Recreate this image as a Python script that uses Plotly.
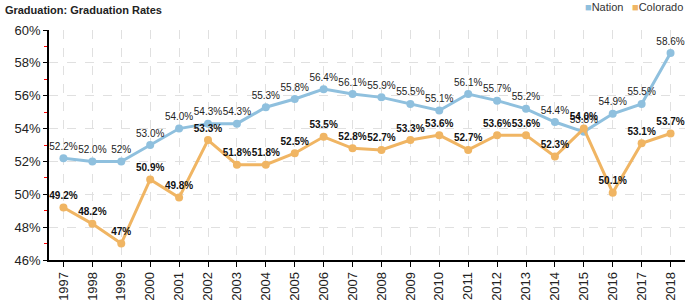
import plotly.graph_objects as go

years = [str(y) for y in range(1997, 2019)]
nation = [52.2, 52.0, 52.0, 53.0, 54.0, 54.3, 54.3, 55.3, 55.8, 56.4, 56.1, 55.9,
          55.5, 55.1, 56.1, 55.7, 55.2, 54.4, 53.8, 54.9, 55.5, 58.6]
nation_labels = ["52.2%", "52.0%", "52%", "53.0%", "54.0%", "54.3%", "54.3%", "55.3%",
                 "55.8%", "56.4%", "56.1%", "55.9%", "55.5%", "55.1%", "56.1%", "55.7%",
                 "55.2%", "54.4%", "53.8%", "54.9%", "55.5%", "58.6%"]
colorado = [49.2, 48.2, 47.0, 50.9, 49.8, 53.3, 51.8, 51.8, 52.5, 53.5, 52.8, 52.7,
            53.3, 53.6, 52.7, 53.6, 53.6, 52.3, 54.0, 50.1, 53.1, 53.7]
colorado_labels = ["49.2%", "48.2%", "47%", "50.9%", "49.8%", "53.3%", "51.8%", "51.8%",
                   "52.5%", "53.5%", "52.8%", "52.7%", "53.3%", "53.6%", "52.7%", "53.6%",
                   "53.6%", "52.3%", "54.0%", "50.1%", "53.1%", "53.7%"]
y_ticks = [46, 48, 50, 52, 54, 56, 58, 60]

blue = "#8fc0de"
orange = "#f0b563"
font = "Arial, Liberation Sans, sans-serif"

fig = go.Figure()
fig.add_trace(go.Scatter(
    x=years, y=nation, mode="lines+markers+text", name="Nation",
    line=dict(color=blue, width=3), marker=dict(color=blue, size=8),
    text=nation_labels, textposition="top center",
    textfont=dict(size=10, color="#222", family=font),
    showlegend=False, cliponaxis=False))
fig.add_trace(go.Scatter(
    x=years, y=colorado, mode="lines+markers+text", name="Colorado",
    line=dict(color=orange, width=3), marker=dict(color=orange, size=8),
    text=colorado_labels, textposition="top center",
    textfont=dict(size=10, color="#111", family=font, weight="bold"),
    showlegend=False, cliponaxis=False))

# legend drawn as text entries with coloured squares
legend_entries = [("Nation", blue, 0.9057), ("Colorado", orange, 1.0)]
for name, c, xpos in legend_entries:
    fig.add_annotation(
        text=f"<span style='color:{c}'>■</span>{name}",
        xref="paper", yref="paper", x=xpos, y=1.1, xanchor="right", yanchor="middle",
        showarrow=False, font=dict(size=11, color="#333", family=font))

fig.update_layout(
    width=700, height=300,
    margin=dict(l=49, r=15, t=30, b=40, autoexpand=False),
    paper_bgcolor="white", plot_bgcolor="white",
    font=dict(family=font, color="#222"),
    title=dict(text="<b>Graduation: Graduation Rates</b>", x=0.007, xanchor="left",
               y=0.965, yanchor="middle", font=dict(size=11, color="#222")),
    showlegend=False,
)
fig.update_xaxes(
    type="category", range=[-0.5, 21.5], tickangle=-90, automargin=False,
    tickfont=dict(size=13, color="#222"),
    showline=True, linecolor="black", linewidth=1.5,
    ticks="outside", ticklen=5, tickcolor="black",
    showgrid=True, gridcolor="#e0e0e0", griddash="dash", gridwidth=1,
)
fig.update_yaxes(
    range=[46, 60], tickvals=y_ticks, ticktext=[f"{v}%" for v in y_ticks],
    automargin=False,
    tickfont=dict(size=13, color="#222"),
    showline=True, linecolor="black", linewidth=1.5,
    ticks="outside", ticklen=4, tickcolor="black",
    showgrid=True, gridcolor="#e0e0e0", griddash="dash", gridwidth=1,
    zeroline=False,
    minor=dict(tickvals=[47, 49, 51, 53, 55, 57, 59], ticks="outside", ticklen=3,
               tickcolor="red", showgrid=False),
)

fig.write_html("out.html")
